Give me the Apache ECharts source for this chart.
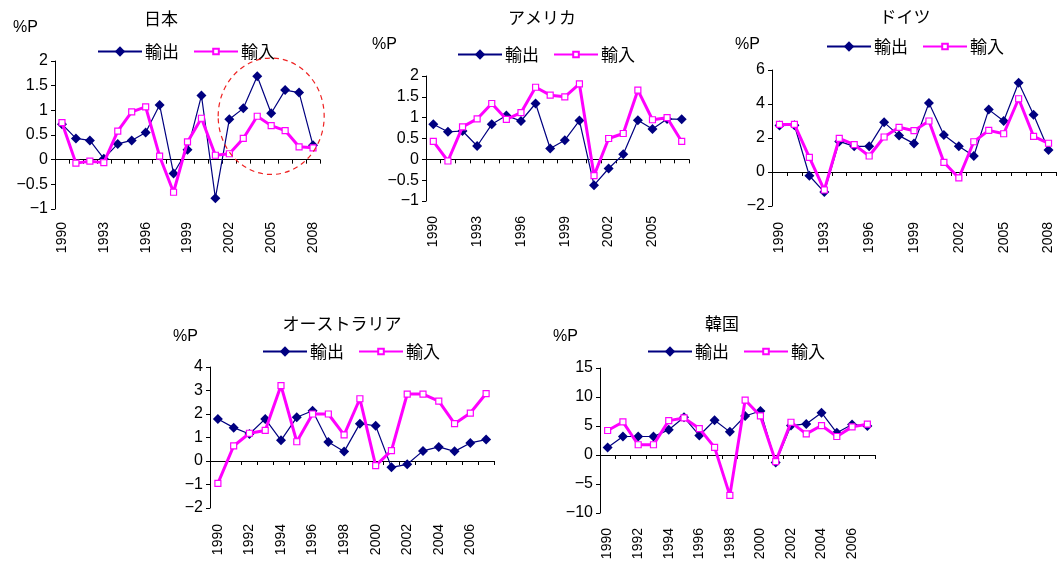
<!DOCTYPE html>
<html><head><meta charset="utf-8">
<script src="https://cdn.jsdelivr.net/npm/echarts@6/dist/echarts.min.js"></script>
<style>html,body{margin:0;padding:0;background:#fff}#c{width:1057px;height:568px}</style>
</head><body><div id="c"></div>
<script>
// ---- data ----
const yearsLong = ['1990','1991','1992','1993','1994','1995','1996','1997','1998','1999','2000','2001','2002','2003','2004','2005','2006','2007','2008'];
const yearsShort = ['1990','1991','1992','1993','1994','1995','1996','1997','1998','1999','2000','2001','2002','2003','2004','2005','2006','2007'];
const seriesNames = ['輸出','輸入'];
const unitLabel = '%P';

const titles = ['日本','アメリカ','ドイツ','オーストラリア','韓国'];

const jpExport = [0.72,0.43,0.39,0.02,0.32,0.39,0.55,1.11,-0.28,0.20,1.30,-0.78,0.82,1.04,1.69,0.94,1.41,1.36,0.29];
const jpImport = [0.75,-0.07,-0.03,-0.06,0.58,0.97,1.07,0.07,-0.66,0.36,0.84,0.09,0.12,0.43,0.88,0.69,0.59,0.26,0.24];

const usExport = [0.84,0.66,0.68,0.32,0.84,1.05,0.92,1.34,0.26,0.46,0.93,-0.62,-0.22,0.12,0.94,0.73,0.97,0.96];
const usImport = [0.43,-0.04,0.78,0.97,1.34,0.96,1.12,1.73,1.54,1.50,1.81,-0.39,0.50,0.62,1.66,0.95,1.00,0.43];

const deExport = [2.73,2.75,-0.22,-1.18,1.80,1.51,1.51,2.92,2.14,1.67,4.06,2.18,1.51,0.94,3.67,3.00,5.25,3.37,1.29];
const deImport = [2.80,2.80,0.86,-1.06,1.98,1.61,0.94,2.06,2.63,2.43,3.00,0.57,-0.35,1.78,2.45,2.25,4.31,2.10,1.69];

const auExport = [1.79,1.42,1.15,1.79,0.88,1.86,2.14,0.81,0.40,1.59,1.50,-0.27,-0.14,0.43,0.60,0.41,0.77,0.91];
const auImport = [-0.95,0.64,1.18,1.30,3.21,0.82,2.00,2.00,1.11,2.65,-0.20,0.44,2.85,2.85,2.55,1.59,2.04,2.87];

const krExport = [1.31,3.19,3.19,3.19,4.34,6.50,3.37,5.99,3.99,6.73,7.59,-1.31,5.08,5.36,7.30,3.82,5.25,5.02];
const krImport = [4.22,5.70,1.77,1.77,5.93,6.39,4.56,1.31,-6.96,9.47,6.73,-1.14,5.65,3.65,5.08,3.19,4.85,5.31];

// y-axis scales (min, max, interval)
const yScales = [[-1,2,0.5],[-1,2,0.5],[-2,6,2],[-2,4,1],[-10,15,5]];
// highlighted region on the Japan chart (data coords: centre category, centre value, half-width in categories, half-height in values)
const jpHighlight = {cat:'2005', value:0.88, halfCats:3.8, halfValue:1.18};

// ---- layout ----
const panels = [
  {cats:yearsLong, exp:jpExport, imp:jpImport, grid:{left:55,top:61,width:265,height:148}, lblInt:2, lblMargin:13,
   title:[161,10], unit:[13,20], legend:[97,43]},
  {cats:yearsShort, exp:usExport, imp:usImport, grid:{left:426,top:76,width:263,height:125}, lblInt:2, lblMargin:15,
   title:[542,9], unit:[372,37], legend:[457,46]},
  {cats:yearsLong, exp:deExport, imp:deImport, grid:{left:772,top:70,width:284,height:136}, lblInt:2, lblMargin:16,
   title:[905,8], unit:[735,37], legend:[826,38]},
  {cats:yearsShort, exp:auExport, imp:auImport, grid:{left:210,top:367,width:284,height:141}, lblInt:1, lblMargin:16,
   title:[342,315], unit:[173,329], legend:[262,343]},
  {cats:yearsShort, exp:krExport, imp:krImport, grid:{left:600,top:368,width:275,height:145}, lblInt:1, lblMargin:15,
   title:[722,315], unit:[553,329], legend:[647,343]}
];

const NUMFONT = 'Liberation Sans, Arial, sans-serif';
const JPFONT = 'Noto Sans CJK JP, sans-serif';
const fmt = v => String(v).replace('-', '\u2212');

const option = {
  animation:false,
  backgroundColor:'#fff',
  title:[], legend:[], grid:[], xAxis:[], yAxis:[], series:[]
};

panels.forEach((p,i)=>{
  option.grid.push(Object.assign({containLabel:false}, p.grid));
  option.title.push({text:titles[i], left:p.title[0], top:p.title[1], textAlign:'center', padding:0,
    textStyle:{fontFamily:JPFONT, fontSize:17, fontWeight:'normal', color:'#000'}});
  option.title.push({text:unitLabel, left:p.unit[0], top:p.unit[1], padding:0,
    textStyle:{fontFamily:NUMFONT, fontSize:16, fontWeight:'normal', color:'#000'}});
  const legText = {fontFamily:JPFONT, fontSize:17, color:'#000', padding:[0,0,0,-2]};
  option.legend.push({data:[seriesNames[0]], left:p.legend[0], top:p.legend[1], padding:0,
    itemWidth:44, itemHeight:13, textStyle:legText});
  option.legend.push({data:[seriesNames[1]], left:p.legend[0]+96, top:p.legend[1], padding:0,
    itemWidth:44, itemHeight:7, textStyle:legText});
  // axis on zero (line + ticks)
  option.xAxis.push({type:'category', gridIndex:i, data:p.cats, boundaryGap:true,
    axisLine:{onZero:true, lineStyle:{color:'#000', width:1}},
    axisTick:{show:true, interval:0, length:4, lineStyle:{color:'#000'}},
    axisLabel:{show:false}, splitLine:{show:false}});
  // label axis at bottom
  option.xAxis.push({type:'category', gridIndex:i, data:p.cats, boundaryGap:true, position:'bottom',
    axisLine:{show:false, onZero:false}, axisTick:{show:false}, splitLine:{show:false},
    axisLabel:{show:true, rotate:90, interval:p.lblInt, margin:p.lblMargin,
      fontFamily:NUMFONT, fontSize:14, color:'#000'}});
  const [mn,mx,iv] = yScales[i];
  option.yAxis.push({type:'value', gridIndex:i, min:mn, max:mx, interval:iv,
    axisLine:{show:true, onZero:false, lineStyle:{color:'#000', width:1}},
    axisTick:{show:true, length:4, lineStyle:{color:'#000'}},
    splitLine:{show:false},
    axisLabel:{formatter:fmt, fontFamily:NUMFONT, fontSize:16, color:'#000', margin:7}});
  option.series.push({name:seriesNames[0], type:'line', xAxisIndex:2*i, yAxisIndex:i, data:p.exp,
    showSymbol:true, showAllSymbol:true,
    symbol:'diamond', symbolSize:10, lineStyle:{color:'#000080', width:1.2},
    itemStyle:{color:'#000080'}, z:2});
  option.series.push({name:seriesNames[1], type:'line', xAxisIndex:2*i, yAxisIndex:i, data:p.imp,
    showSymbol:true, showAllSymbol:true,
    symbol:'rect', symbolSize:6, lineStyle:{color:'#ff00ff', width:3},
    itemStyle:{color:'#ffffff', borderColor:'#ff00ff', borderWidth:1.2}, z:3});
});

const chart = echarts.init(document.getElementById('c'), null, {renderer:'canvas'});
chart.setOption(option);

// dashed ellipse annotation on Japan chart, placed from data coordinates
const c = chart.convertToPixel({xAxisIndex:0, yAxisIndex:0}, [jpHighlight.cat, jpHighlight.value]);
const catW = panels[0].grid.width / yearsLong.length;
const unitH = panels[0].grid.height / (yScales[0][1]-yScales[0][0]);
chart.setOption({graphic:[{type:'ellipse', shape:{cx:c[0], cy:c[1], rx:jpHighlight.halfCats*catW, ry:jpHighlight.halfValue*unitH},
  style:{fill:null, stroke:'#ee2222', lineWidth:1.2, lineDash:[5,4]}, z:10}]});
</script>
</body></html>
